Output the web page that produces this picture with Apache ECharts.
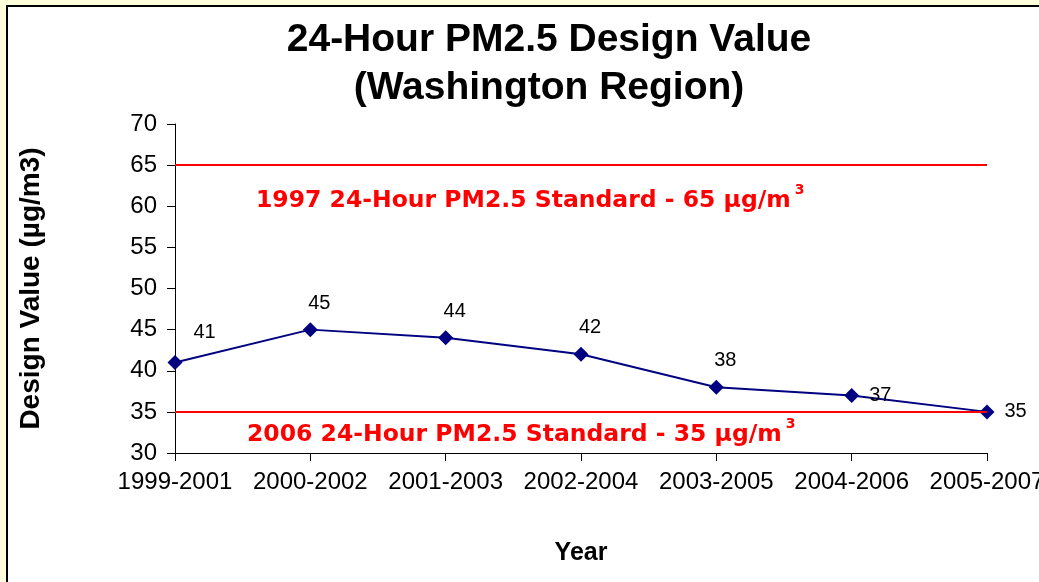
<!DOCTYPE html>
<html>
<head>
<meta charset="utf-8">
<script src="https://cdn.jsdelivr.net/npm/echarts@6/dist/echarts.min.js"></script>
<style>
  html, body { margin: 0; padding: 0; width: 1039px; height: 582px; overflow: hidden; background: #ffffdc; }
  .panel { position: absolute; left: 6px; top: 5px; width: 1060px; height: 600px; background: #fff;
    border-left: 2px solid #000; border-top: 2px solid #000; }
  #chart { position: absolute; left: 0; top: 0; width: 1039px; height: 582px; }
</style>
</head>
<body>
<div class="panel"></div>
<div id="chart"></div>
<script>
// data
const periods = ['1999-2001', '2000-2002', '2001-2003', '2002-2004', '2003-2005', '2004-2006', '2005-2007']
const designValues = [41, 45, 44, 42, 38, 37, 35]
const standardValues = [65, 35]
const standardYears = ['1997', '2006']
const yTicks = { min: 30, max: 70, step: 5 }

const font = 'Liberation Sans, Arial, sans-serif'

// label placement per point (as in the picture)
function labelFor(i) {
  if (i === 0) return { position: 'right', distance: 5, offset: [6, -30] }
  if (i >= periods.length - 2) return { position: 'right', distance: 5, offset: [5, 0] }
  return { position: 'top', distance: 9, offset: [9, 0] }
}

const chart = echarts.init(document.getElementById('chart'), null, { renderer: 'canvas' })
chart.setOption({
  backgroundColor: 'transparent',
  animation: false,
  title: {
    text: '24-Hour PM2.5 Design Value\n(Washington Region)',
    left: 544,
    top: 11,
    textAlign: 'center',
    textStyle: {
      fontFamily: font,
      fontWeight: 'bold',
      fontSize: 39,
      lineHeight: 48,
      color: '#000'
    }
  },
  grid: {
    left: 175,
    right: 52,
    top: 124,
    bottom: 129,
    containLabel: false,
    outerBoundsMode: 'none'
  },
  xAxis: {
    type: 'category',
    data: periods,
    boundaryGap: false,
    name: 'Year',
    nameLocation: 'middle',
    nameGap: 88,
    nameTextStyle: { fontFamily: font, fontWeight: 'bold', fontSize: 25, color: '#000', verticalAlign: 'top' },
    axisLine: { lineStyle: { color: '#000', width: 1 } },
    axisTick: { alignWithLabel: true, length: 8, lineStyle: { color: '#000' } },
    axisLabel: { fontFamily: font, fontSize: 24, color: '#000', margin: 17, interval: 0, hideOverlap: false },
    splitLine: { show: false }
  },
  yAxis: {
    type: 'value',
    min: yTicks.min,
    max: yTicks.max,
    interval: yTicks.step,
    name: 'Design Value (µg/m3)',
    nameLocation: 'middle',
    nameGap: 130,
    nameTextStyle: { fontFamily: font, fontWeight: 'bold', fontSize: 28, color: '#000' },
    axisLine: { show: true, lineStyle: { color: '#000', width: 1 } },
    axisTick: { show: true, length: 8, lineStyle: { color: '#000' } },
    axisLabel: { fontFamily: font, fontSize: 24, color: '#000', margin: 18 },
    splitLine: { show: false }
  },
  series: [
    {
      type: 'line',
      data: designValues.map((v, i) => ({ value: v, label: labelFor(i) })),
      symbol: 'diamond',
      symbolSize: 15,
      itemStyle: { color: '#000080' },
      lineStyle: { color: '#000080', width: 2 },
      label: {
        show: true,
        fontFamily: font,
        fontSize: 20,
        color: '#000'
      },
      markLine: {
        silent: true,
        symbol: ['none', 'none'],
        label: { show: false },
        lineStyle: { color: '#ff0000', width: 2, type: 'solid' },
        data: standardValues.map(v => ({ yAxis: v }))
      },
      z: 3
    }
  ],
  graphic: standardValues.map((v, i) => ({
    type: 'text',
    left: i === 0 ? 256 : 247,
    top: i === 0 ? 183 : 417,
    style: {
      text: '{a|' + standardYears[i] + ' 24-Hour PM2.5 Standard - ' + v + ' µg/m}{s|3}',
      rich: {
        a: { fontFamily: 'DejaVu Sans, sans-serif', fontWeight: 'bold', fontSize: 23.5, fill: '#ff0000', lineHeight: 36 },
        s: { fontFamily: 'DejaVu Sans, sans-serif', fontWeight: 'bold', fontSize: 14, fill: '#ff0000', verticalAlign: 'top', lineHeight: 14, padding: [0, 0, 0, 4] }
      }
    }
  }))
})
</script>
</body>
</html>
